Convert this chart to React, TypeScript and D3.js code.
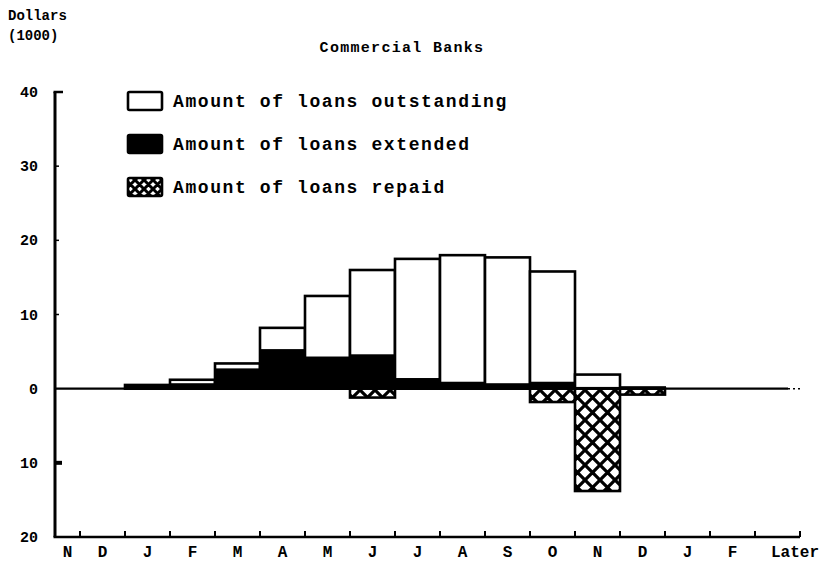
import React, { useEffect, useRef } from "react";
import * as d3 from "d3";

// months shown along the bottom (Nov of one year to "Later")
const months = ["N", "D", "J", "F", "M", "A", "M", "J", "J", "A", "S", "O", "N", "D", "J", "F", "Later"];
// dollars (1000)
const outstanding = [0, 0, 0.5, 1.2, 3.4, 8.2, 12.5, 16.0, 17.5, 18.0, 17.7, 15.8, 1.9, 0, 0, 0, 0];
const extended = [0, 0, 0.4, 0.6, 2.6, 5.2, 4.2, 4.5, 1.3, 0.8, 0.6, 0.8, 0.1, 0.2, 0, 0, 0];
const repaid = [0, 0, 0, 0, 0, 0, 0, 1.2, 0, 0, 0, 1.8, 13.8, 0.8, 0, 0, 0];
const yTicks = [40, 30, 20, 10, 0, -10, -20];
const legendItems = ["Amount of loans outstanding", "Amount of loans extended", "Amount of loans repaid"];

const FONT = "'Liberation Mono', 'DejaVu Sans Mono', monospace";

const App = () => {
  const svgRef = useRef<SVGSVGElement>(null);

  useEffect(() => {
    const svg = d3.select(svgRef.current);
    svg.selectAll("*").remove();
    const width = 827;
    const height = 561;
    const axisX = 55;
    svg.attr("width", width).attr("height", height);

    const defs = svg.append("defs");
    const mkHatch = (id: string, size: number, sw: number) => {
      const p = defs.append("pattern")
        .attr("id", id)
        .attr("patternUnits", "userSpaceOnUse")
        .attr("width", size)
        .attr("height", size);
      p.append("rect").attr("width", size).attr("height", size).attr("fill", "#fff");
      p.append("path")
        .attr("d", `M0,0L${size},${size}M${size},0L0,${size}M${-size / 2},${size / 2}L${size / 2},${size * 1.5}M${size / 2},${-size / 2}L${size * 1.5},${size / 2}`)
        .attr("stroke", "#000")
        .attr("stroke-width", sw);
    };
    mkHatch("hatch", 15, 3.2);
    mkHatch("hatchSmall", 9, 3);

    const idx = months.map((_, i) => i);
    const x = d3.scaleBand<number>().domain(idx).range([35, 800]).paddingInner(0);
    const y = d3.scaleLinear().domain([-20, 40]).range([537, 92]);

    const g = svg.append("g");

    // outstanding (white)
    g.selectAll(".out")
      .data(idx.filter(i => outstanding[i] > 0))
      .enter()
      .append("rect")
      .attr("x", i => x(i)!)
      .attr("y", i => y(outstanding[i]))
      .attr("width", x.bandwidth())
      .attr("height", i => y(0) - y(outstanding[i]))
      .attr("fill", "#fff")
      .attr("stroke", "#000")
      .attr("stroke-width", 2.6);

    // extended (black)
    g.selectAll(".ext")
      .data(idx.filter(i => extended[i] > 0))
      .enter()
      .append("rect")
      .attr("x", i => x(i)!)
      .attr("y", i => y(extended[i]))
      .attr("width", x.bandwidth())
      .attr("height", i => y(0) - y(extended[i]))
      .attr("fill", "#000")
      .attr("stroke", "#000")
      .attr("stroke-width", 2);

    // repaid (cross hatched, below zero)
    g.selectAll(".rep")
      .data(idx.filter(i => repaid[i] > 0))
      .enter()
      .append("rect")
      .attr("x", i => x(i)!)
      .attr("y", y(0))
      .attr("width", x.bandwidth())
      .attr("height", i => y(-repaid[i]) - y(0))
      .attr("fill", "url(#hatch)")
      .attr("stroke", "#000")
      .attr("stroke-width", 2.6);

    // zero line, solid then dotted at the end
    const xEnd = x(16)! + x.bandwidth();
    svg.append("line")
      .attr("x1", axisX).attr("x2", xEnd - 12)
      .attr("y1", y(0)).attr("y2", y(0))
      .attr("stroke", "#000").attr("stroke-width", 2.2);
    svg.append("line")
      .attr("x1", xEnd - 12).attr("x2", xEnd)
      .attr("y1", y(0)).attr("y2", y(0))
      .attr("stroke", "#000").attr("stroke-width", 1.5)
      .attr("stroke-dasharray", "2,3");

    // y axis
    svg.append("line")
      .attr("x1", axisX).attr("x2", axisX)
      .attr("y1", y(40)).attr("y2", y(-20))
      .attr("stroke", "#000").attr("stroke-width", 3);
    svg.append("line")
      .attr("x1", axisX - 1.5).attr("x2", axisX + 8)
      .attr("y1", y(40)).attr("y2", y(40))
      .attr("stroke", "#000").attr("stroke-width", 2.5);
    svg.selectAll(".ytick")
      .data(yTicks.filter(t => t !== 40 && t !== -20 && t !== 0))
      .enter()
      .append("line")
      .attr("x1", axisX).attr("x2", t => axisX + (t === -10 ? 7 : 4))
      .attr("y1", t => y(t)).attr("y2", t => y(t))
      .attr("stroke", "#000").attr("stroke-width", t => (t === -10 ? 4 : 1.5));
    svg.selectAll(".ylab")
      .data(yTicks)
      .enter()
      .append("text")
      .attr("x", 38)
      .attr("y", t => y(t) + 5)
      .attr("text-anchor", "end")
      .attr("font-family", FONT)
      .attr("font-weight", "bold")
      .attr("font-size", 15)
      .text(t => Math.abs(t));

    // x axis at bottom
    svg.append("line")
      .attr("x1", axisX - 1.5).attr("x2", xEnd)
      .attr("y1", y(-20)).attr("y2", y(-20))
      .attr("stroke", "#000").attr("stroke-width", 2.6);
    svg.selectAll(".xtick")
      .data(idx.map(i => x(i)! + x.bandwidth()))
      .enter()
      .append("line")
      .attr("x1", d => d).attr("x2", d => d)
      .attr("y1", y(-20)).attr("y2", y(-20) - 6)
      .attr("stroke", "#000").attr("stroke-width", 2);
    svg.selectAll(".xlab")
      .data(idx)
      .enter()
      .append("text")
      .attr("x", i => {
        if (i === 16) return xEnd - 5;
        const x0 = Math.max(x(i)!, axisX);
        return (x0 + x(i)! + x.bandwidth()) / 2;
      })
      .attr("y", 557)
      .attr("text-anchor", "middle")
      .attr("font-family", FONT)
      .attr("font-weight", "bold")
      .attr("font-size", 16)
      .text(i => months[i]);

    // titles
    const txt = (s: string, tx: number, ty: number, size: number, anchor: string, ls = 0) =>
      svg.append("text")
        .attr("x", tx).attr("y", ty)
        .attr("text-anchor", anchor)
        .attr("font-family", FONT)
        .attr("font-weight", "bold")
        .attr("font-size", size)
        .attr("letter-spacing", ls)
        .text(s);
    txt("Dollars", 8, 20, 14, "start");
    txt("(1000)", 8, 40, 14, "start");
    txt("Commercial Banks", 402, 52, 15, "middle", 1.3);

    // legend
    const legY = [101, 144, 187];
    const fills = ["#fff", "#000", "url(#hatchSmall)"];
    legendItems.forEach((s, i) => {
      svg.append("rect")
        .attr("x", 128).attr("y", legY[i] - 9)
        .attr("width", 34).attr("height", 18)
        .attr("fill", fills[i])
        .attr("stroke", "#000").attr("stroke-width", 2.6)
        .attr("rx", 1.5);
      txt(s, 173, legY[i] + 6, 18, "start", 1.6);
    });
  }, []);

  return (
    <svg
      ref={svgRef}
      style={{ position: "absolute", left: 0, top: 0, background: "#fff" }}
    ></svg>
  );
};

export default App;
